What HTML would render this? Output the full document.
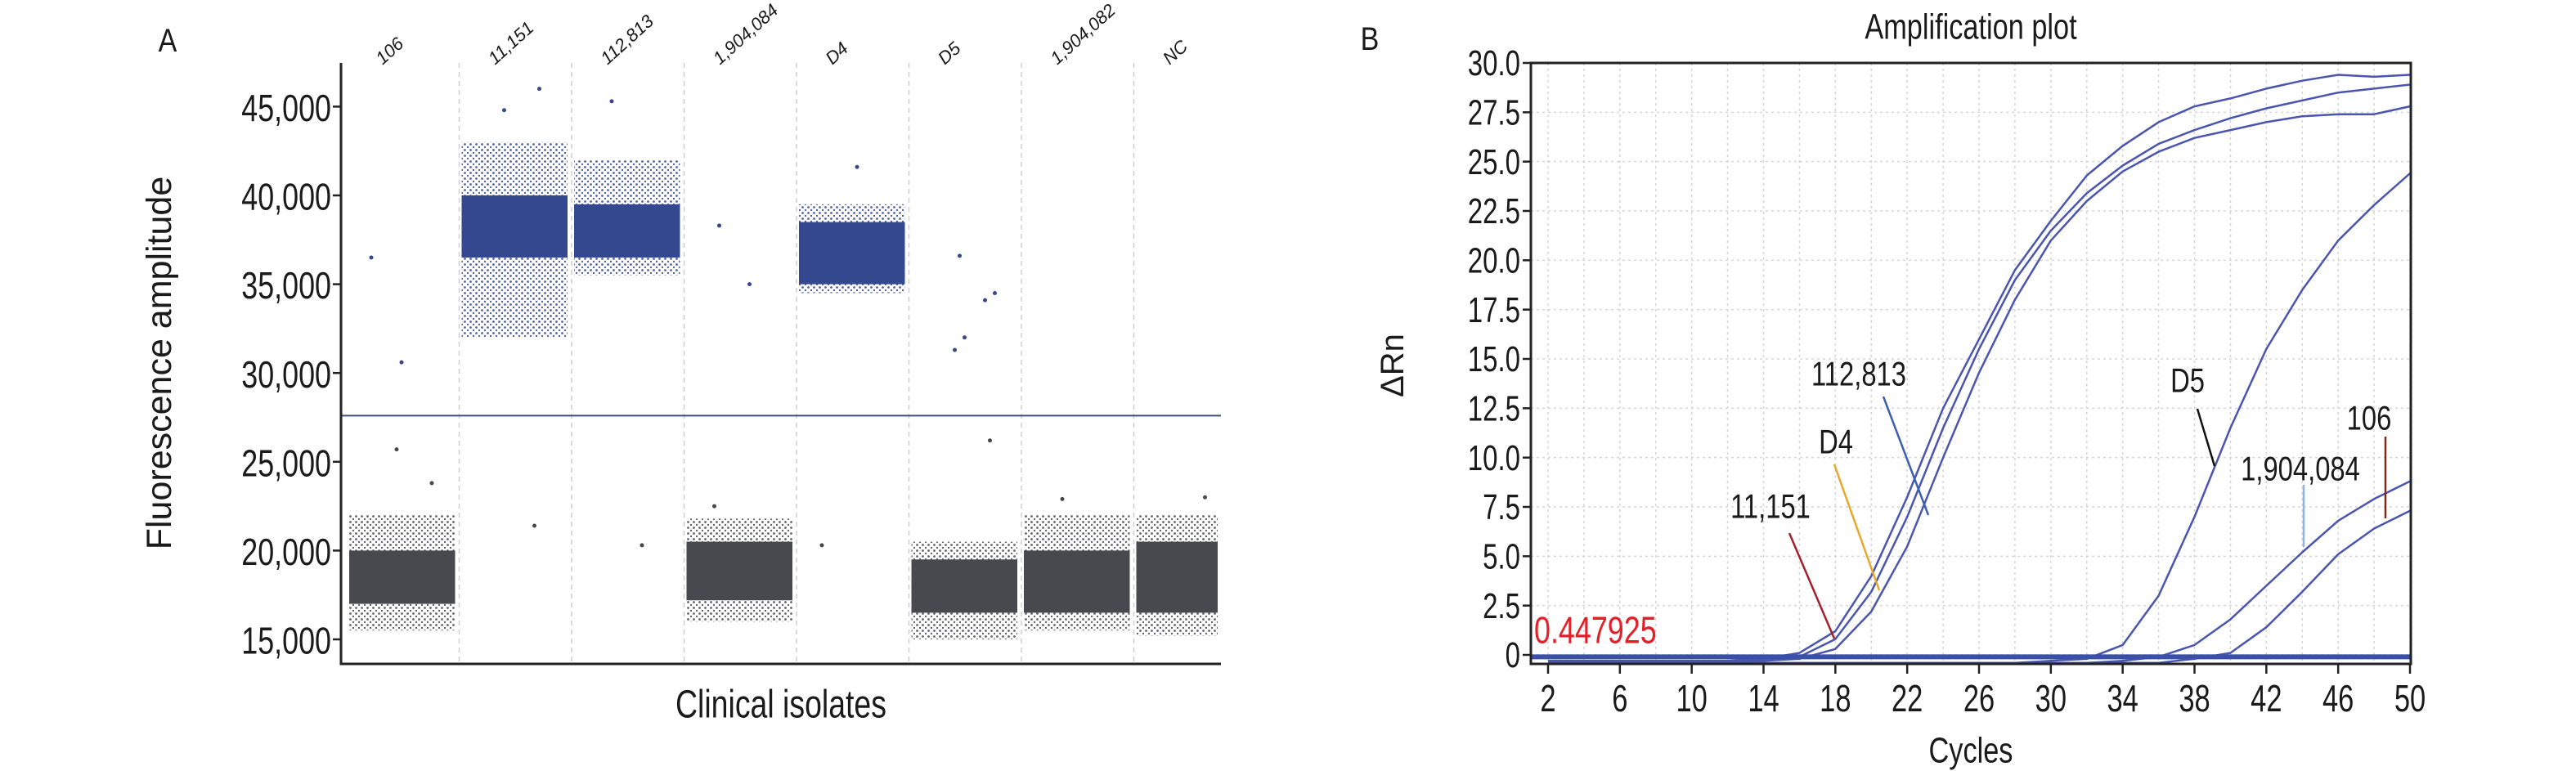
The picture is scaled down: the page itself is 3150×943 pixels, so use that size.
<!DOCTYPE html>
<html><head><meta charset="utf-8"><style>
html,body{margin:0;padding:0;background:#fff}
svg{display:block}
text{font-family:"Liberation Sans",sans-serif;fill:#1a1a1a}
</style></head><body>
<svg id="fig" xmlns="http://www.w3.org/2000/svg" width="3150" height="943" viewBox="0 0 3150 943">
<defs>
<pattern id="dotBlue" width="7" height="7" patternUnits="userSpaceOnUse"><circle cx="1.5" cy="1.5" r="1.4" fill="#34488f"/><circle cx="5" cy="5" r="1.2" fill="#34488f"/></pattern>
<pattern id="dotGray" width="7" height="7" patternUnits="userSpaceOnUse"><circle cx="1.5" cy="1.5" r="1.4" fill="#48494e"/><circle cx="5" cy="5" r="1.2" fill="#48494e"/></pattern>
</defs>
<g id="panelA"></g>
<g id="panelB"></g>
</svg>
<script>
// ---------- Panel A data ----------
const categoriesA = ["106","11,151","112,813","1,904,084","D4","D5","1,904,082","NC"];
const positiveA = [false,true,true,false,true,false,false,false];
const coreLoA   = [17000,36500,36500,17200,35000,16500,16500,16500];
const coreHiA   = [20000,40000,39500,20500,38500,19500,20000,20500];
const fringeLoA = [15500,32000,35500,16000,34500,15000,15500,15200];
const fringeHiA = [22000,43000,42000,21800,39500,20500,22000,22000];
const outlierCatA = [0,0,0,0,1,1,1,2,2,3,3,3,4,4,5,5,5,5,5,5,6,7];
const outlierValA = [36500,30600,23800,25700,46000,44800,21400,45300,20300,38300,35000,22500,41600,20300,32000,34500,36600,26200,31300,34100,22900,23000];
const yTicksA = [15000,20000,25000,30000,35000,40000,45000];
const yTickLabelsA = ["15,000","20,000","25,000","30,000","35,000","40,000","45,000"];
const thresholdA = 27600;

// ---------- Panel B data ----------
const cyclesB = [2,4,6,8,10,12,14,16,18,20,22,24,26,28,30,32,34,36,38,40,42,44,46,48,50];
const curve11151 = [-0.3,-0.3,-0.3,-0.3,-0.3,-0.3,-0.2,0.1,1.2,4,8,12.5,16,19.5,22,24.3,25.8,27,27.8,28.2,28.7,29.1,29.4,29.3,29.4];
const curveD4    = [-0.3,-0.3,-0.3,-0.3,-0.3,-0.3,-0.3,-0.1,0.8,3.2,7,11.5,15.5,19,21.5,23.4,24.8,25.9,26.6,27.2,27.7,28.1,28.5,28.7,28.9];
const curve112813= [-0.3,-0.3,-0.3,-0.3,-0.3,-0.3,-0.3,-0.2,0.3,2.2,5.5,10,14.3,18,21,23,24.5,25.5,26.2,26.6,27,27.3,27.4,27.4,27.8];
const curveD5    = [-0.4,-0.4,-0.4,-0.4,-0.4,-0.4,-0.4,-0.4,-0.4,-0.4,-0.4,-0.4,-0.4,-0.4,-0.3,-0.2,0.5,3,7,11.5,15.5,18.5,21,22.8,24.4];
const curve1904084=[-0.4,-0.4,-0.4,-0.4,-0.4,-0.4,-0.4,-0.4,-0.4,-0.4,-0.4,-0.4,-0.4,-0.4,-0.4,-0.4,-0.3,-0.1,0.5,1.8,3.5,5.2,6.8,7.9,8.8];
const curve106   = [-0.4,-0.4,-0.4,-0.4,-0.4,-0.4,-0.4,-0.4,-0.4,-0.4,-0.4,-0.4,-0.4,-0.4,-0.4,-0.4,-0.4,-0.4,-0.2,0.1,1.4,3.2,5.1,6.4,7.3];
const yTicksB = [0,2.5,5,7.5,10,12.5,15,17.5,20,22.5,25,27.5,30];
const yTickLabelsB = ["0","2.5","5.0","7.5","10.0","12.5","15.0","17.5","20.0","22.5","25.0","27.5","30.0"];
const xTicksB = [2,6,10,14,18,22,26,30,34,38,42,46,50];
const thresholdB = 0.447925;

const NS = "http://www.w3.org/2000/svg";
function mk(parent, tag, attrs){const e=document.createElementNS(NS,tag);for(const k in attrs)e.setAttribute(k,attrs[k]);parent.appendChild(e);return e;}
function txt(parent, x, y, s, size, anchor, sx, fill){
  const g=mk(parent,"g",{transform:`translate(${x},${y}) scale(${sx||0.8},1)`});
  const t=mk(g,"text",{x:0,y:0,"font-size":size,"text-anchor":anchor||"start","dominant-baseline":"central"});
  if(fill)t.setAttribute("style","fill:"+fill);
  t.textContent=s;return t;
}

// ================= Panel A =================
const A=document.getElementById("panelA");
const axL=417, axR=1493, axT=77, axB=812;
const yA=v=>782-(v-15000)/5000*108.6;
const colX0=424, colW=137.5;
const xA=i=>colX0+i*colW;

// separators
for(let i=1;i<categoriesA.length;i++){
  const l=mk(A,"line",{x1:xA(i),x2:xA(i),y1:axT,y2:axB,stroke:"#cfcfcf","stroke-width":1.5,"stroke-dasharray":"6,5"});
  
  
}
// clusters
categoriesA.forEach((c,i)=>{
  const x=xA(i)+3, w=Math.min(colW-8, axR-4-x);
  const pat=positiveA[i]?"url(#dotBlue)":"url(#dotGray)";
  const col=positiveA[i]?"#34488f":"#48494e";
  const f=mk(A,"rect",{x:x,y:yA(fringeHiA[i]),width:w,height:yA(fringeLoA[i])-yA(fringeHiA[i]),fill:pat,opacity:0.85});
  
  
  const r=mk(A,"rect",{x:x,y:yA(coreHiA[i]),width:w,height:yA(coreLoA[i])-yA(coreHiA[i]),fill:col});
  
  
});
outlierCatA.forEach((ci,k)=>{
  const p=mk(A,"circle",{cx:xA(ci)+30+((k*37)%80),cy:yA(outlierValA[k]),r:2.5,fill:outlierValA[k]>thresholdA?"#34488f":"#48494e"});
  
  
});
// threshold
const thA=mk(A,"line",{x1:axL,x2:axR,y1:yA(thresholdA),y2:yA(thresholdA),stroke:"#3c4f7a","stroke-width":2});


// axes
const yaxA=mk(A,"line",{x1:axL,x2:axL,y1:axT,y2:axB,stroke:"#222","stroke-width":3});


const xaxA=mk(A,"line",{x1:axL-1.5,x2:axR,y1:axB,y2:axB,stroke:"#222","stroke-width":3});


yTicksA.forEach((v,i)=>{
  const tk=mk(A,"line",{x1:axL-10,x2:axL,y1:yA(v),y2:yA(v),stroke:"#222","stroke-width":2.5});
  
  
  const t=txt(A,axL-12,yA(v)+2,yTickLabelsA[i],46,"end",0.78);
  
  
});
categoriesA.forEach((c,i)=>{
  const cx=xA(i)+colW/2-25;
  const g=mk(A,"g",{transform:`translate(${cx},80) rotate(-42)`});
  const t=mk(g,"text",{x:0,y:0,"font-size":22,"font-style":"italic"});
  t.textContent=c;
  
  
});
{
  const g=mk(A,"g",{transform:"translate(195,444) rotate(-90)"});
  const t=mk(g,"text",{x:0,y:0,"font-size":43,"text-anchor":"middle","dominant-baseline":"central","font-family":"DejaVu Sans, sans-serif"});
  t.textContent="Fluorescence amplitude";
  
  
}
{const t=txt(A,955,862,"Clinical isolates",48,"middle",0.78);

}
{const t=txt(A,205,49,"A",40,"middle",0.85);

}

// ================= Panel B =================
const B=document.getElementById("panelB");
const bL=1872,bR=2948,bT=77,bB=812;
const xB=c=>1893+(c-2)*(1054/48);
const yB=v=>801-v*(724/30);
// grid
for(let c=2;c<=50;c+=2){
  const g=mk(B,"line",{x1:xB(c),x2:xB(c),y1:bT,y2:bB,stroke:"#d6d6d6","stroke-width":1.5,"stroke-dasharray":"3,4"});
  
  
}
yTicksB.forEach(v=>{
  const g=mk(B,"line",{x1:bL,x2:bR,y1:yB(v),y2:yB(v),stroke:"#d6d6d6","stroke-width":1.5,"stroke-dasharray":"3,4"});
  
  
});
// curves
const curves=[["11,151",curve11151],["D4",curveD4],["112,813",curve112813],["D5",curveD5],["1,904,084",curve1904084],["106",curve106]];
curves.forEach(([nm,vals])=>{
  const d=vals.map((v,i)=>(i?"L":"M")+xB(cyclesB[i]).toFixed(1)+","+yB(v).toFixed(1)).join(" ");
  const p=mk(B,"path",{d:d,fill:"none",stroke:"#4a55b0","stroke-width":2.5,"stroke-linejoin":"round"});
  
  
});
// baseline band
const base=mk(B,"line",{x1:bL,x2:bR,y1:yB(-0.1),y2:yB(-0.1),stroke:"#3a4fa8","stroke-width":6});


const thB=mk(B,"line",{x1:bL,x2:bR,y1:yB(-0.45),y2:yB(-0.45),stroke:"#6f7fc2","stroke-width":2});


// frame
const fr=mk(B,"rect",{x:bL,y:bT,width:bR-bL,height:bB-bT,fill:"none",stroke:"#222","stroke-width":3});


yTicksB.forEach((v,i)=>{
  const tk=mk(B,"line",{x1:bL-10,x2:bL,y1:yB(v),y2:yB(v),stroke:"#222","stroke-width":2.5});
  
  
  const t=txt(B,bL-13,yB(v)+1,yTickLabelsB[i],44,"end",0.75);
  
  
});
xTicksB.forEach(c=>{
  const tk=mk(B,"line",{x1:xB(c),x2:xB(c),y1:bB,y2:bB+12,stroke:"#222","stroke-width":2.5});
  
  
  const t=txt(B,xB(c),854,String(c),46,"middle",0.75);
  
  
});
{const t=txt(B,2410,33,"Amplification plot",44,"middle",0.78);

}
{const t=txt(B,2410,918,"Cycles",44,"middle",0.78);

}
{const g=mk(B,"g",{transform:"translate(1703,447) rotate(-90)"});
const t=mk(g,"text",{x:0,y:0,"font-size":40,"text-anchor":"middle","dominant-baseline":"central","font-family":"DejaVu Sans, sans-serif"});
t.textContent="ΔRn";

}
{const t=txt(B,1675,47,"B",40,"middle",0.85);

}
{const t=txt(B,1876,771,String(thresholdB),46,"start",0.78,"#e3202a");

}
// annotations
const ann=[
 ["112,813",2273,457,2303,485,2358,630,"#3b5fae"],
 ["D4",2245,540,2243,568,2298,722,"#e8a82b"],
 ["11,151",2165,619,2188,652,2243,781,"#a3212c"],
 ["D5",2675,465,2687,500,2708,570,"#111111"],
 ["1,904,084",2813,573,2817,593,2817,669,"#8fb5de"],
 ["106",2897,511,2917,534,2917,634,"#7a2c1a"]
];
ann.forEach(([s,tx,ty,x1,y1,x2,y2,col])=>{
  const l=mk(B,"line",{x1:x1,y1:y1,x2:x2,y2:y2,stroke:col,"stroke-width":2.5});
  
  
  const t=txt(B,tx,ty,s,42,"middle",0.78);
  
  
});
</script>
</body></html>
